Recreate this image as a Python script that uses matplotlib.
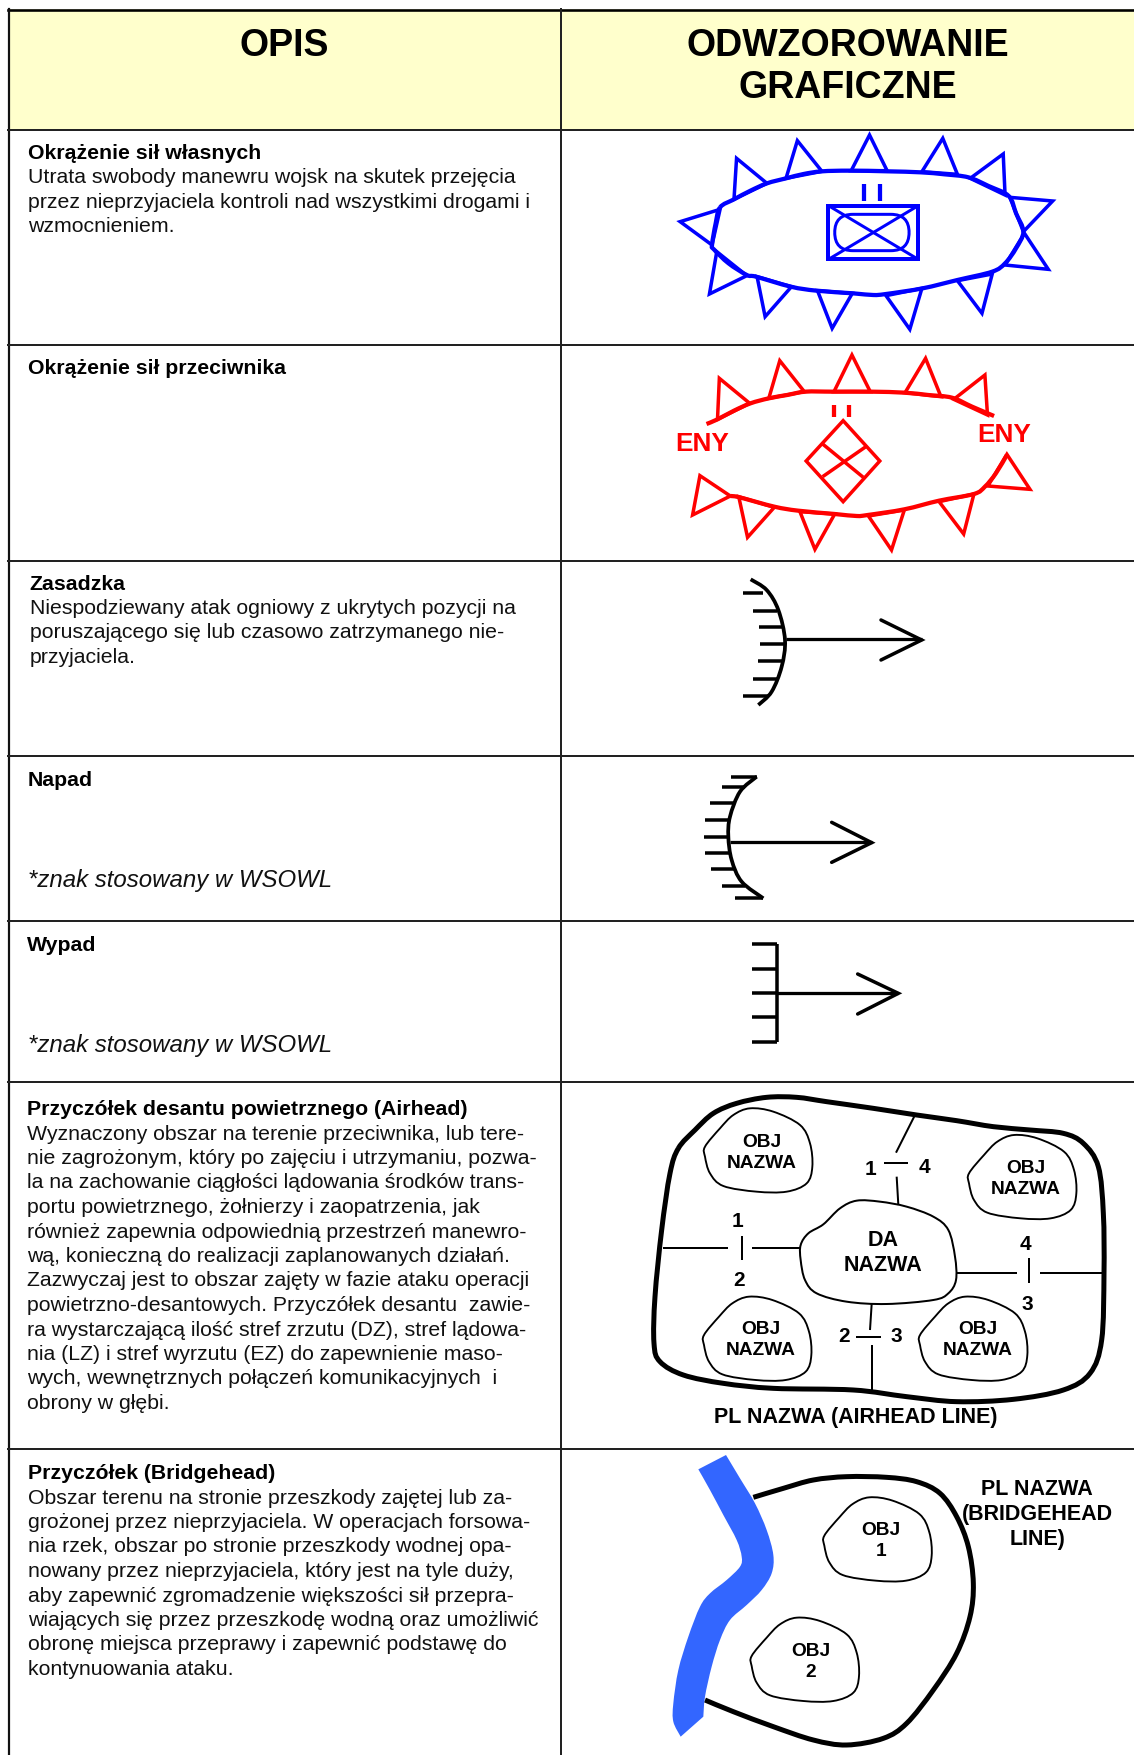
import numpy as np
import matplotlib
matplotlib.use("Agg")
import matplotlib.pyplot as plt
from matplotlib.path import Path
from matplotlib.patches import PathPatch, Polygon, Rectangle, FancyBboxPatch

plt.rcParams['font.family'] = ['Liberation Sans', 'DejaVu Sans']

W, H = 1134, 1755
COL_X = 561
ROW_Y = [130, 345, 561, 756, 921, 1082, 1449]
HEADERS = ["OPIS", "ODWZOROWANIE\nGRAFICZNE"]

# (x, first line y, bold title, regular lines)
ROW_TEXT = [
    (28, 151, "Okrążenie sił własnych", ["Utrata swobody manewru wojsk na skutek przejęcia",
        "przez nieprzyjaciela kontroli nad wszystkimi drogami i", "wzmocnieniem."]),
    (28, 366, "Okrążenie sił przeciwnika", []),
    (30, 582, "Zasadzka", ["Niespodziewany atak ogniowy z ukrytych pozycji na",
        "poruszającego się lub czasowo zatrzymanego nie-", "przyjaciela."]),
    (28, 778, "Napad", []),
    (27, 943, "Wypad", []),
    (27, 1107.5, "Przyczółek desantu powietrznego (Airhead)", [
        "Wyznaczony obszar na terenie przeciwnika, lub tere-",
        "nie zagrożonym, który po zajęciu i utrzymaniu, pozwa-",
        "la na zachowanie ciągłości lądowania środków trans-",
        "portu powietrznego, żołnierzy i zaopatrzenia, jak",
        "również zapewnia odpowiednią przestrzeń manewro-",
        "wą, konieczną do realizacji zaplanowanych działań.",
        "Zazwyczaj jest to obszar zajęty w fazie ataku operacji",
        "powietrzno-desantowych. Przyczółek desantu  zawie-",
        "ra wystarczającą ilość stref zrzutu (DZ), stref lądowa-",
        "nia (LZ) i stref wyrzutu (EZ) do zapewnienie maso-",
        "wych, wewnętrznych połączeń komunikacyjnych  i",
        "obrony w głębi."]),
    (28, 1471.5, "Przyczółek (Bridgehead)", [
        "Obszar terenu na stronie przeszkody zajętej lub za-",
        "grożonej przez nieprzyjaciela. W operacjach forsowa-",
        "nia rzek, obszar po stronie przeszkody wodnej opa-",
        "nowany przez nieprzyjaciela, który jest na tyle duży,",
        "aby zapewnić zgromadzenie większości sił przepra-",
        "wiających się przez przeszkodę wodną oraz umożliwić",
        "obronę miejsca przeprawy i zapewnić podstawę do",
        "kontynuowania ataku."]),
]
ITALIC_NOTE = "*znak stosowany w WSOWL"
ITALIC_Y = [879, 1044]

# ---- encirclement panels (crop coordinates, x/2.73+560, y/3+120)
BLUE_OUTLINE = [(437,262),(475,238),(520,212),(565,190),(617,175),(665,162),(715,154),(790,152),
    (895,154),(985,157),(1050,163),(1115,172),(1170,198),(1225,228),(1245,280),(1265,335),(1245,385),
    (1215,430),(1180,455),(1085,480),(990,505),(890,522),(855,525),(800,520),(700,512),(630,500),
    (535,470),(510,465),(460,430),(420,388),(415,375),(425,310)]
BLUE_TRI = [[(475,238),(482,115),(565,190)],[(617,175),(648,62),(715,154)],[(795,152),(845,45),(893,152)],
    [(988,155),(1045,55),(1085,163)],[(1120,175),(1210,102),(1215,225)],[(1228,232),(1345,243),(1265,335)],
    [(1268,340),(1333,448),(1215,435)],[(1180,462),(1152,580),(1085,482)],[(988,505),(955,628),(890,527)],
    [(798,520),(743,625),(703,512)],[(632,500),(560,590),(538,470)],[(510,467),(408,522),(428,395)],
    [(415,375),(328,305),(437,268)]]
BLUE_UNIT_BOX = [(733,257),(978,418)]
BLUE_UNIT_OVAL = [(750,283),(953,392)]
BLUE_ECHELON = [(830,192,242),(873,192,242)]

RED_TOP = [(400,912),(430,898),(475,872),(520,850),(570,835),(620,825),(670,815),(745,815),(850,815),
    (940,818),(1005,825),(1070,833),(1125,860),(1185,888)]
RED_BOTTOM = [(1220,1005),(1190,1060),(1160,1100),(1130,1122),(1035,1142),(940,1168),(840,1185),(810,1188),
    (750,1182),(650,1172),(585,1160),(490,1132),(465,1128)]
RED_TRI = [[(430,898),(435,775),(518,850)],[(570,835),(600,722),(667,815)],[(748,815),(797,705),(847,815)],
    [(942,818),(998,715),(1040,830)],[(1075,838),(1160,765),(1167,885)],[(1168,1098),(1283,1108),(1220,1003)],
    [(1130,1122),(1102,1242),(1035,1145)],[(940,1170),(905,1290),(842,1188)],[(750,1182),(696,1288),(655,1175)],
    [(585,1162),(512,1252),(488,1130)],[(465,1128),(362,1185),(382,1067)]]
RED_DIAMOND = [(773,902),(873,1023),(773,1145),(672,1023)]
RED_INNER = [[(717,972),(828,1072)],[(835,980),(717,1070)]]
RED_ECHELON = [(748,855,890),(790,855,890)]
ENY_POS = [(387,968),(1213,943)]

# ---- attack signs (crop coordinates, x/3+680, y/3+560)
AMBUSH_ARC = [(212,58),(260,90),(295,150),(315,240),(305,320),(275,395),(235,435)]
AMBUSH_TICKS = [(100,188,250),(152,218,290),(202,236,305),(253,240,315),(304,234,310),(356,220,295),(407,188,265)]
AMBUSH_ARROW = [(318,238),(725,238)]
AMBUSH_HEAD = [(603,180),(725,240),(603,300)]
RAID_ARC = [(230,650),(180,695),(150,770),(145,830),(155,900),(185,965),(250,1015)]
RAID_TICKS = [(650,153,230),(682,125,195),(730,90,165),(780,75,150),(830,73,145),(880,75,150),(928,92,165),(977,125,195),(1014,165,250)]
RAID_ARROW = [(150,845),(575,845)]
RAID_HEAD = [(455,787),(575,848),(455,907)]
SORTIE_STEM = [(290,1153),(290,1445)]
SORTIE_TICKS = [(1153,217,290),(1227,217,290),(1300,217,290),(1372,217,290),(1445,217,290)]
SORTIE_ARROW = [(290,1300),(655,1300)]
SORTIE_HEAD = [(533,1242),(655,1300),(533,1362)]

# ---- airhead (crop coordinates, x/3+640, y/3+1080)
AIR_OUTER = [(115,205),(165,150),(220,100),(290,70),(380,52),(470,52),(560,65),(700,85),(830,105),(950,122),
    (1060,140),(1170,150),(1270,160),(1330,190),(1375,260),(1390,400),(1392,580),(1385,780),(1350,880),(1270,930),
    (1120,958),(950,965),(800,950),(640,930),(400,925),(250,910),(130,885),(60,845),(42,790),(45,650),(65,450),(90,280)]
DA_BLOB = [(482,495),(505,460),(550,433),(600,385),(650,362),(720,365),(800,380),(880,410),(925,450),(945,530),
    (948,600),(925,640),(880,660),(740,672),(620,665),(530,640),(495,600),(482,540)]
OBJ_BLOB = [(195,200),(240,145),(280,105),(330,85),(400,95),(480,135),(510,190),(517,260),(500,310),(440,335),
    (350,335),(250,318),(210,280),(195,230)]
AIR_OBJ_OFFSETS = [(0,0),(792,80),(-3,565),(645,565)]
AIR_LINES = [[(825,105),(768,218)],[(733,248),(805,248)],[(770,290),(775,375)],
    [(70,505),(265,505)],[(307,467),(307,540)],[(337,505),(480,505)],
    [(950,578),(1130,578)],[(1168,535),(1168,610)],[(1200,578),(1385,578)],
    [(695,672),(690,750)],[(648,772),(722,772)],[(695,795),(695,935)]]
AIR_NUMS = [("1",690,268),("4",852,262),("1",293,425),("2",297,602),("4",1155,495),("3",1162,673),("2",612,770),("3",768,770)]
AIR_OBJ_LABELS = [(365,218),(1158,298),(362,781),(1012,781)]

# ---- bridgehead (crop coordinates, x/3+640, y/3+1440)
RIVER_RIGHT = [(258,45),(300,115),(345,190),(380,270),(400,345),(395,400),(365,450),(320,495),(270,540),(240,600),
    (215,680),(195,770),(190,830)]
RIVER_LEFT = [(122,890),(100,845),(100,790),(115,690),(145,590),(180,500),(210,460),(260,420),
    (300,380),(305,350),(290,300),(250,225),(210,150),(175,88)]
BRIDGE_LINE = [(340,172),(430,145),(520,120),(620,110),(740,112),(830,125),(900,160),(950,230),(985,320),(1000,430),
    (990,530),(950,640),(880,750),(800,850),(730,895),(620,915),(520,900),(400,860),(280,815),(195,780)]
BRIDGE_OBJ_OFFSETS = [(358,87),(140,448)]
BRIDGE_OBJ_LABELS = [("OBJ\n1",722,303),("OBJ\n2",512,665)]
BRIDGE_TITLE = ["PL NAZWA","(BRIDGEHEAD","LINE)"]
BRIDGE_TITLE_Y = [148,224,298]

BLUE, RED, RIVER_C, HEAD_C = "#0000FF", "#FF0000", "#3366FF", "#FFFFCC"
px0 = 0.72   # points per pixel at dpi 100
px = 0.90    # drawn strokes, a little heavier to match the soft reference

fig = plt.figure(figsize=(W/100, H/100), dpi=100, facecolor="white")
ax = fig.add_axes([0, 0, 1, 1])
ax.set_xlim(0, W); ax.set_ylim(H, 0); ax.axis("off")

def p1(pts): return [(560+x/2.73, 120+y/3) for x, y in pts]
def p2(pts): return [(680+x/3, 560+y/3) for x, y in pts]
def p3(pts): return [(640+x/3, 1080+y/3) for x, y in pts]
def p4(pts): return [(640+x/3, 1440+y/3) for x, y in pts]

def smooth(pts, closed=False):
    P = np.array(pts, float); n = len(P)
    verts, codes = [P[0]], [Path.MOVETO]
    m = n if closed else n-1
    for i in range(m):
        if closed:
            p0, a, b, p3_ = P[(i-1) % n], P[i], P[(i+1) % n], P[(i+2) % n]
        else:
            p0, a, b, p3_ = P[max(i-1, 0)], P[i], P[i+1], P[min(i+2, n-1)]
        verts += [a+(b-p0)/6, b-(p3_-a)/6, b]
        codes += [Path.CURVE4]*3
    return Path(verts, codes)

def curve(pts, color="black", lw=2.5, closed=False, fc="none", z=3):
    ax.add_patch(PathPatch(smooth(pts, closed), fc=fc, ec=color, lw=lw*px, capstyle="butt", joinstyle="round", zorder=z))

def line(pts, color="black", lw=2.5, cap="butt", z=3):
    xs, ys = zip(*pts)
    ax.plot(xs, ys, color=color, lw=lw*px, solid_capstyle=cap, solid_joinstyle="miter", zorder=z)

def bold(x, y, s, size, color="black", ha="center", va="center", ls=1.2):
    ax.text(x, y, s, fontsize=size, fontweight="bold", color=color, ha=ha, va=va, linespacing=ls, zorder=5)

# table
ax.add_patch(Rectangle((8, 9), W-8, ROW_Y[0]-9, fc=HEAD_C, ec="none", zorder=1))
ax.plot([8, W], [9.5, 9.5], color="black", lw=2.6*px0, zorder=2)
ax.plot([8.5, 8.5], [9, H], color="#111111", lw=2.2*px0, zorder=2)
ax.plot([COL_X, COL_X], [9, H], color="#222222", lw=2*px0, zorder=2)
for y in ROW_Y:
    ax.plot([8, W], [y, y], color="#222222", lw=2*px0, zorder=2)

bold(284, 46, HEADERS[0], 27)
bold(848, 67, HEADERS[1], 27, ls=1.2)

LH = 24.5
BASE = 7.5
for x, y, title, lines in ROW_TEXT:
    tx = x-1 if title == "Zasadzka" else x
    ax.text(tx, y+BASE, title, fontsize=15.3, fontweight="bold", ha="left", va="baseline", zorder=5)
    for i, s in enumerate(lines):
        ax.text(x, y+BASE+(i+1)*LH, s, fontsize=15.3, ha="left", va="baseline", color="#111111", zorder=5)
for y in ITALIC_Y:
    ax.text(28, y+8, ITALIC_NOTE, fontsize=17.25, fontstyle="italic", ha="left", va="baseline", color="#111111", zorder=5)

# blue encirclement
curve(p1(BLUE_OUTLINE), BLUE, 3.4, closed=True)
for t in BLUE_TRI:
    ax.add_patch(Polygon(p1(t), closed=True, fc="none", ec=BLUE, lw=2.8*px, joinstyle="miter", zorder=3))
(a, b), (c, d) = p1(BLUE_UNIT_BOX)
ax.add_patch(Rectangle((a, b), c-a, d-b, fc="none", ec=BLUE, lw=3.2*px, zorder=3))
line([(a, b), (c, d)], BLUE, 2.4); line([(a, d), (c, b)], BLUE, 2.4)
(a, b), (c, d) = p1(BLUE_UNIT_OVAL)
r = (d-b)/2
ax.add_patch(FancyBboxPatch((a, b), c-a, d-b, boxstyle=f"round,pad=0,rounding_size={r:.2f}", fc="none", ec=BLUE, lw=2.4*px, zorder=3))
for x, y0, y1 in BLUE_ECHELON:
    line(p1([(x, y0), (x, y1)]), BLUE, 3.4)

# red encirclement
curve(p1(RED_TOP), RED, 3.4)
curve(p1(RED_BOTTOM), RED, 3.4)
for t in RED_TRI:
    ax.add_patch(Polygon(p1(t), closed=True, fc="none", ec=RED, lw=2.8*px, joinstyle="miter", zorder=3))
ax.add_patch(Polygon(p1(RED_DIAMOND), closed=True, fc="none", ec=RED, lw=2.8*px, zorder=3))
for seg in RED_INNER:
    line(p1(seg), RED, 2.8)
for x, y0, y1 in RED_ECHELON:
    line(p1([(x, y0), (x, y1)]), RED, 3.4)
for pos in ENY_POS:
    (x, y), = p1([pos])
    bold(x, y+1, "ENY", 18.8, RED)

# ambush / raid / sortie
for arc, ticks, arrow, head in [(AMBUSH_ARC, AMBUSH_TICKS, AMBUSH_ARROW, AMBUSH_HEAD),
                                (RAID_ARC, RAID_TICKS, RAID_ARROW, RAID_HEAD)]:
    curve(p2(arc), "black", 3)
    for y, x0, x1 in ticks:
        line(p2([(x0, y), (x1, y)]), "black", 2.8)
    line(p2(arrow), "black", 2.6)
    line(p2(head), "black", 2.8, cap="round")
line(p2(SORTIE_STEM), "black", 2.8)
for y, x0, x1 in SORTIE_TICKS:
    line(p2([(x0, y), (x1, y)]), "black", 2.8)
line(p2(SORTIE_ARROW), "black", 2.6)
line(p2(SORTIE_HEAD), "black", 2.8, cap="round")

# airhead
curve(p3(AIR_OUTER), "black", 4, closed=True)
curve(p3(DA_BLOB), "black", 1.6, closed=True)
for dx, dy in AIR_OBJ_OFFSETS:
    curve(p3([(x+dx, y+dy) for x, y in OBJ_BLOB]), "black", 1.5, closed=True)
for seg in AIR_LINES:
    line(p3(seg), "black", 1.6)
for s, x, y in AIR_NUMS:
    (xx, yy), = p3([(x, y)])
    bold(xx, yy, s, 15)
for x, y in AIR_OBJ_LABELS:
    (xx, yy), = p3([(x, y)])
    bold(xx, yy, "OBJ\nNAZWA", 13.8, ls=1.33)
(xx, yy), = p3([(730, 519)])
bold(xx, yy, "DA\nNAZWA", 15.5, ls=1.22)
(xx, yy), = p3([(648, 1014)])
bold(xx, yy, "PL NAZWA (AIRHEAD LINE)", 15.5)

# bridgehead
right = smooth(p4(RIVER_RIGHT)); left = smooth(p4(RIVER_LEFT))
left_codes = left.codes.copy(); left_codes[0] = Path.LINETO
rv = np.vstack([right.vertices, left.vertices, right.vertices[:1]])
rc = np.concatenate([right.codes, left_codes, [Path.CLOSEPOLY]])
ax.add_patch(PathPatch(Path(rv, rc), fc=RIVER_C, ec="none", zorder=3))
curve(p4(BRIDGE_LINE), "black", 4, z=2.5)
for dx, dy in BRIDGE_OBJ_OFFSETS:
    curve(p4([(x+dx, y+dy) for x, y in OBJ_BLOB]), "black", 1.5, closed=True)
for s, x, y in BRIDGE_OBJ_LABELS:
    (xx, yy), = p4([(x, y)])
    bold(xx, yy, s, 13.8, ls=1.33)
for s, y in zip(BRIDGE_TITLE, BRIDGE_TITLE_Y):
    (xx, yy), = p4([(1192, y)])
    bold(xx, yy, s, 15.5)

fig.savefig("out.png", dpi=100, facecolor="white")
